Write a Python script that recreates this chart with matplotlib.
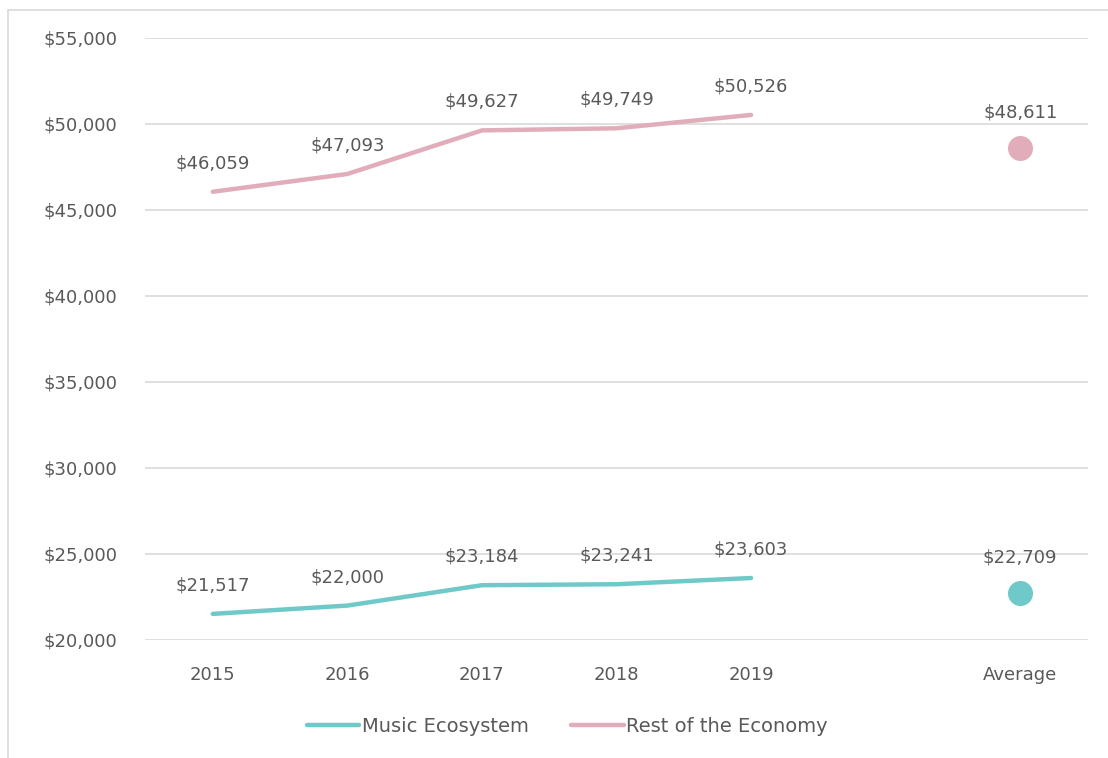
import matplotlib
matplotlib.use("Agg")
import matplotlib.pyplot as plt
from matplotlib.patches import Rectangle
import numpy as np

categories = ["2015", "2016", "2017", "2018", "2019", "", "Average"]
years = ["2015", "2016", "2017", "2018", "2019"]
music = [21517, 22000, 23184, 23241, 23603]
rest = [46059, 47093, 49627, 49749, 50526]
music_avg = 22709
rest_avg = 48611
yticks = [20000, 25000, 30000, 35000, 40000, 45000, 50000, 55000]

teal = "#70C9C9"
pink = "#E2ADBA"
txt = "#595959"
plt.rcParams['font.family'] = ['DejaVu Sans']

fig = plt.figure(figsize=(11.08, 7.58), dpi=100)
ax = fig.add_axes([0.1313, 0.1557, 0.8502, 0.7942])

fig.patches.append(Rectangle((8/1108, -0.5), 2.0, 1.5 - 10/758, transform=fig.transFigure,
                             fill=False, edgecolor="#D9D9D9", linewidth=1.2))

x = np.arange(len(years))
avg_x = categories.index("Average")

ax.plot(x, music, color=teal, linewidth=3.2, solid_capstyle="round", label="Music Ecosystem", zorder=3)
ax.plot(x, rest, color=pink, linewidth=3.2, solid_capstyle="round", label="Rest of the Economy", zorder=3)
ax.plot([avg_x], [music_avg], "o", color=teal, markersize=17, zorder=3)
ax.plot([avg_x], [rest_avg], "o", color=pink, markersize=17, zorder=3)

fs = 13
for xi, v in zip(x, music):
    ax.annotate(f"${v:,}", (xi, v), xytext=(0, 14), textcoords="offset points",
                ha="center", va="bottom", fontsize=fs, color=txt)
for xi, v in zip(x, rest):
    ax.annotate(f"${v:,}", (xi, v), xytext=(0, 14), textcoords="offset points",
                ha="center", va="bottom", fontsize=fs, color=txt)
ax.annotate(f"${music_avg:,}", (avg_x, music_avg), xytext=(0, 19), textcoords="offset points",
            ha="center", va="bottom", fontsize=fs, color=txt)
ax.annotate(f"${rest_avg:,}", (avg_x, rest_avg), xytext=(0, 19), textcoords="offset points",
            ha="center", va="bottom", fontsize=fs, color=txt)

ax.set_xlim(-0.5, len(categories) - 0.5)
ax.set_ylim(20000, 55000)
ax.set_yticks(yticks)
ax.set_yticklabels([f"${t:,}" for t in yticks])
ax.set_xticks(range(len(categories)))
ax.set_xticklabels(categories)
ax.tick_params(axis="both", length=0, labelsize=fs, labelcolor=txt)
ax.tick_params(axis="y", pad=20)
ax.tick_params(axis="x", pad=19)
ax.grid(axis="y", color="#D9D9D9", linewidth=1.2, zorder=0)
ax.set_axisbelow(True)
for s in ax.spines.values():
    s.set_visible(False)

leg = fig.legend(handles=ax.get_lines()[:2], loc="center", bbox_to_anchor=(0.512, 0.042), ncol=2,
                 frameon=False, fontsize=14, handlelength=2.7, handletextpad=0.12, columnspacing=2.2,
                 labelcolor=txt)

fig.savefig("out.png", dpi=100, facecolor="white")
